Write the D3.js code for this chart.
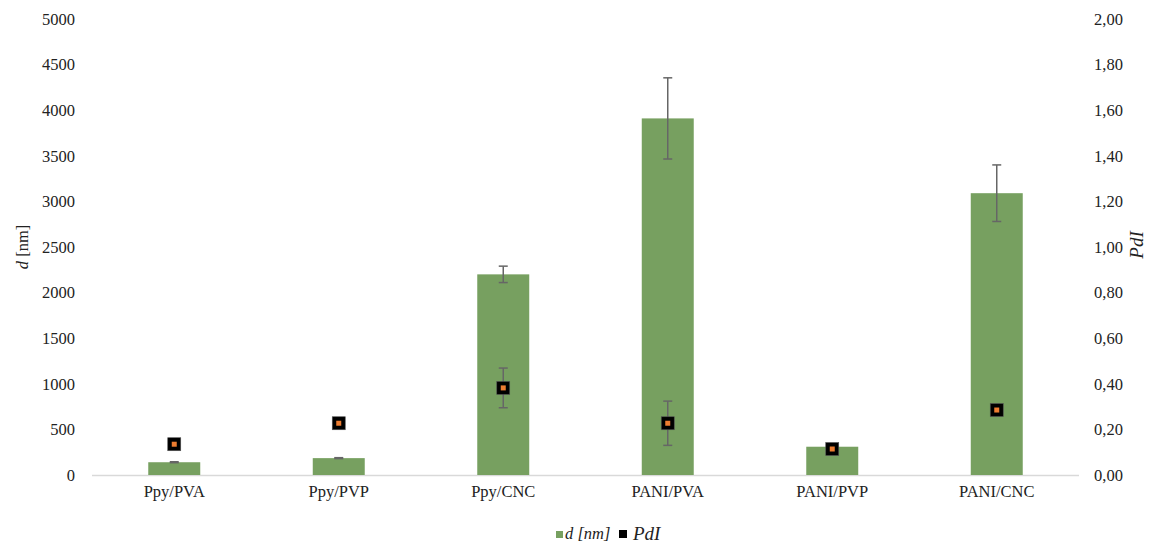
<!doctype html>
<html>
<head>
<meta charset="utf-8"/>
<style>
    html, body { margin: 0; padding: 0; background: #fff; }
    svg { display: block; }
    svg text { font-family: "Liberation Serif", "DejaVu Serif", serif; }
</style>
<script src="https://cdnjs.cloudflare.com/ajax/libs/d3/7.8.5/d3.min.js"></script>
</head>
<body>
<svg id="chart" width="1149" height="543"></svg>
<script>
    // Data
    var categories = ["Ppy/PVA", "Ppy/PVP", "Ppy/CNC", "PANI/PVA", "PANI/PVP", "PANI/CNC"];
    var diameter = [140, 185, 2200, 3910, 310, 3090];     // d [nm]
    var diameterErr = [5, 5, 90, 445, 0, 310];
    var pdi = [0.135, 0.227, 0.382, 0.227, 0.114, 0.285];  // PdI
    var pdiErr = [0, 0, 0.087, 0.097, 0, 0];
    var leftTicks = [0, 500, 1000, 1500, 2000, 2500, 3000, 3500, 4000, 4500, 5000];
    var rightTicks = [0, 0.2, 0.4, 0.6, 0.8, 1.0, 1.2, 1.4, 1.6, 1.8, 2.0];

    var BAR_COLOUR = "#77a060";
    var ERR_COLOUR = "#666666";
    var SERIF = "'Liberation Serif', 'DejaVu Serif', serif";

    var svg = d3.select("#chart");
    var margin = {top: 19, left: 92};
    var plotRight = 1079, plotBottom = 475;

    var x = d3.scaleBand().domain(categories).range([margin.left, plotRight]).paddingInner(0.684).paddingOuter(0.342);
    var yL = d3.scaleLinear().domain([0, 5000]).range([plotBottom, margin.top]);
    var yR = d3.scaleLinear().domain([0, 2]).range([plotBottom, margin.top]);

    // left axis
    var leftAxis = svg.append("g")
        .attr("transform", "translate(" + margin.left + ",0)")
        .call(d3.axisLeft(yL).tickValues(leftTicks).tickSize(0).tickPadding(17).tickFormat(d3.format("d")))
        .attr("font-family", SERIF).attr("font-size", 16.5);
    leftAxis.select(".domain").remove();
    leftAxis.selectAll("text").attr("fill", "#222");

    // right axis
    var fmtComma = function(d) { return d.toFixed(2).replace(".", ","); };
    var rightAxis = svg.append("g")
        .attr("transform", "translate(" + plotRight + ",0)")
        .call(d3.axisRight(yR).tickValues(rightTicks).tickSize(0).tickPadding(15).tickFormat(fmtComma))
        .attr("font-family", SERIF).attr("font-size", 16.5);
    rightAxis.select(".domain").remove();
    rightAxis.selectAll("text").attr("fill", "#222");

    // baseline
    svg.append("line")
        .attr("x1", margin.left).attr("x2", plotRight)
        .attr("y1", plotBottom + 0.5).attr("y2", plotBottom + 0.5)
        .attr("stroke", "#d9d9d9").attr("stroke-width", 1.5);

    // bars
    svg.append("g").selectAll("rect")
        .data(categories)
        .enter().append("rect")
        .attr("x", function(d) { return x(d); })
        .attr("width", x.bandwidth())
        .attr("y", function(d, i) { return yL(diameter[i]); })
        .attr("height", function(d, i) { return plotBottom - yL(diameter[i]); })
        .attr("fill", BAR_COLOUR);

    function errorBars(vals, errs, scale) {
        var g = svg.append("g").attr("stroke", ERR_COLOUR).attr("stroke-width", 1.5);
        categories.forEach(function(c, i) {
            if (!errs[i]) return;
            var cx = x(c) + x.bandwidth() / 2;
            var top = scale(vals[i] + errs[i]), bot = scale(vals[i] - errs[i]);
            g.append("line").attr("x1", cx).attr("x2", cx).attr("y1", top).attr("y2", bot);
            g.append("line").attr("x1", cx - 4.5).attr("x2", cx + 4.5).attr("y1", top).attr("y2", top);
            g.append("line").attr("x1", cx - 4.5).attr("x2", cx + 4.5).attr("y1", bot).attr("y2", bot);
        });
    }
    errorBars(diameter, diameterErr, yL);
    errorBars(pdi, pdiErr, yR);

    // PdI markers
    var markers = svg.append("g").selectAll("g")
        .data(categories)
        .enter().append("g")
        .attr("transform", function(d, i) {
            return "translate(" + (x(d) + x.bandwidth() / 2) + "," + yR(pdi[i]) + ")";
        });
    markers.append("rect")
        .attr("x", -6.5).attr("y", -6.5).attr("width", 13).attr("height", 13)
        .attr("fill", "#000").attr("stroke", "#555").attr("stroke-width", 0.6);
    markers.append("rect")
        .attr("x", -2.5).attr("y", -2.5).attr("width", 5).attr("height", 5)
        .attr("fill", "#ed7d31");

    // category labels
    svg.append("g").selectAll("text")
        .data(categories)
        .enter().append("text")
        .attr("x", function(d) { return x(d) + x.bandwidth() / 2; })
        .attr("y", 497)
        .attr("text-anchor", "middle")
        .attr("font-size", 16.5)
        .attr("fill", "#222")
        .text(function(d) { return d; });

    // axis titles
    var lt = svg.append("text")
        .attr("transform", "translate(28,247) rotate(-90)")
        .attr("text-anchor", "middle")
        .attr("font-size", 16.5)
        .attr("fill", "#222");
    lt.append("tspan").attr("font-style", "italic").text("d");
    lt.append("tspan").text(" [nm]");

    svg.append("text")
        .attr("transform", "translate(1143,245) rotate(-90)")
        .attr("text-anchor", "middle")
        .attr("font-size", 19)
        .attr("font-style", "italic")
        .attr("fill", "#222")
        .text("PdI");

    // legend
    var lg = svg.append("g");
    lg.append("rect").attr("x", 556).attr("y", 531).attr("width", 7).attr("height", 7).attr("fill", BAR_COLOUR);
    lg.append("text").attr("x", 565).attr("y", 539).attr("font-size", 16.5).attr("font-style", "italic")
        .attr("fill", "#222").text("d [nm]");
    lg.append("rect").attr("x", 619).attr("y", 530).attr("width", 8).attr("height", 8).attr("fill", "#000");
    lg.append("text").attr("x", 633).attr("y", 540).attr("font-size", 19).attr("font-style", "italic")
        .attr("fill", "#222").text("PdI");
</script>
</body>
</html>
